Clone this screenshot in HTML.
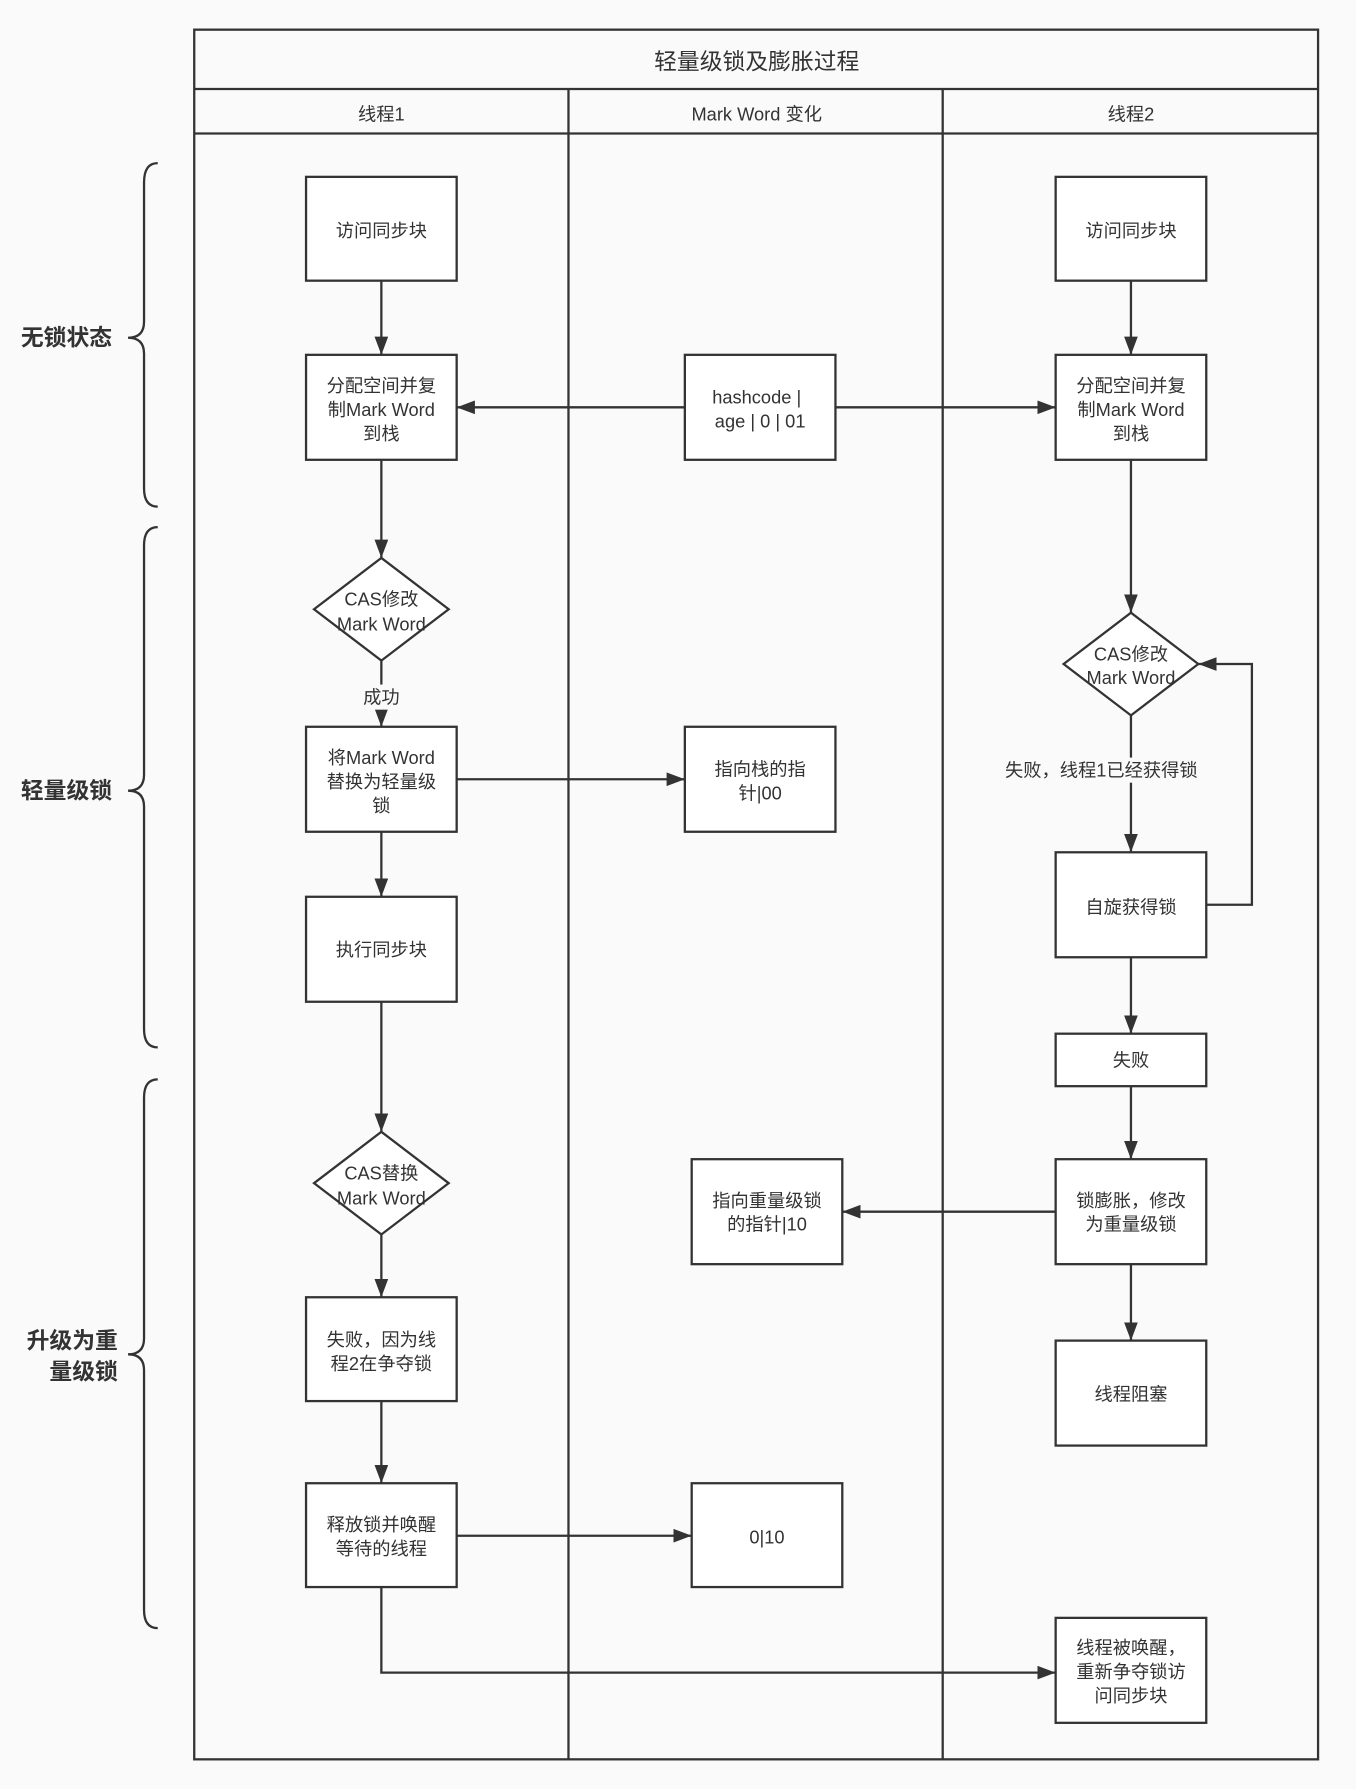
<!DOCTYPE html>
<html><head><meta charset="utf-8"><style>
html,body{margin:0;padding:0;background:#fafafa;}
svg{display:block;}
text{font-family:"Liberation Sans","Noto Sans CJK SC",sans-serif;fill:#333;}
</style></head><body>
<svg width="1356" height="1789" viewBox="0 0 1188 1568" xmlns="http://www.w3.org/2000/svg">
<defs>
<marker id="a" viewBox="0 0 16 12" refX="16" refY="6" markerWidth="16" markerHeight="12" orient="auto" markerUnits="userSpaceOnUse">
<path d="M0,0 L16,6 L0,12 z" fill="#333"/>
</marker>
</defs>
<rect width="1188" height="1568" fill="#fafafa"/>
<g stroke="#333" stroke-width="2" fill="none">
<rect x="170" y="26" width="985" height="1516" fill="#fafafa"/>
<line x1="170" y1="78" x2="1155" y2="78"/>
<line x1="170" y1="117" x2="1155" y2="117"/>
<line x1="498" y1="78" x2="498" y2="1542"/>
<line x1="826" y1="78" x2="826" y2="1542"/>
<path d="M138,143 Q126,143 126,160 L126,282 Q126,296 112,296 Q126,296 126,310 L126,428 Q126,444 138,444"/>
<path d="M138,462 Q126,462 126,478 L126,679 Q126,693 112,693 Q126,693 126,707 L126,902 Q126,918 138,918"/>
<path d="M138,946 Q126,946 126,962 L126,1173 Q126,1187 112,1187 Q126,1187 126,1201 L126,1411 Q126,1427 138,1427"/>
</g>
<g stroke="#333" stroke-width="2" fill="#fff">
<rect x="268" y="155" width="132" height="91"/>
<rect x="268" y="311" width="132" height="92"/>
<polygon points="334,489 393,534 334,579 275,534"/>
<rect x="268" y="637" width="132" height="92"/>
<rect x="268" y="786" width="132" height="92"/>
<polygon points="334,992 393,1037 334,1082 275,1037"/>
<rect x="268" y="1137" width="132" height="91"/>
<rect x="268" y="1300" width="132" height="91"/>
<rect x="600" y="311" width="132" height="92"/>
<rect x="600" y="637" width="132" height="92"/>
<rect x="606" y="1016" width="132" height="92"/>
<rect x="606" y="1300" width="132" height="91"/>
<rect x="925" y="155" width="132" height="91"/>
<rect x="925" y="311" width="132" height="92"/>
<polygon points="991,537 1050,582 991,627 932,582"/>
<rect x="925" y="747" width="132" height="92"/>
<rect x="925" y="906" width="132" height="46"/>
<rect x="925" y="1016" width="132" height="92"/>
<rect x="925" y="1175" width="132" height="92"/>
<rect x="925" y="1418" width="132" height="92"/>
</g>
<g stroke="#333" stroke-width="2" fill="none" marker-end="url(#a)">
<line x1="334" y1="246" x2="334" y2="311"/>
<line x1="334" y1="403" x2="334" y2="489"/>
<line x1="334" y1="579" x2="334" y2="637"/>
<line x1="334" y1="729" x2="334" y2="786"/>
<line x1="334" y1="878" x2="334" y2="992"/>
<line x1="334" y1="1082" x2="334" y2="1137"/>
<line x1="334" y1="1228" x2="334" y2="1300"/>
<line x1="600" y1="357" x2="400" y2="357"/>
<line x1="732" y1="357" x2="925" y2="357"/>
<line x1="400" y1="683" x2="600" y2="683"/>
<line x1="991" y1="246" x2="991" y2="311"/>
<line x1="991" y1="403" x2="991" y2="537"/>
<line x1="991" y1="627" x2="991" y2="747"/>
<line x1="991" y1="839" x2="991" y2="906"/>
<line x1="991" y1="952" x2="991" y2="1016"/>
<line x1="991" y1="1108" x2="991" y2="1175"/>
<polyline points="1057,793 1097,793 1097,582 1050,582"/>
<line x1="925" y1="1062" x2="738" y2="1062"/>
<line x1="400" y1="1346" x2="606" y2="1346"/>
<polyline points="334,1391 334,1466 925,1466"/>
</g>
<rect x="314" y="600" width="40" height="22" fill="#fafafa"/>
<rect x="874" y="664" width="182" height="22" fill="#fafafa"/>
<g font-size="16" text-anchor="middle" dominant-baseline="central">
<text x="663" y="54" font-size="20">轻量级锁及膨胀过程</text>
<text x="334" y="100">线程1</text>
<text x="663" y="100">Mark Word 变化</text>
<text x="991" y="100">线程2</text>
<text x="58" y="296" font-size="20" font-weight="bold">无锁状态</text>
<text x="58" y="693" font-size="20" font-weight="bold">轻量级锁</text>
<text x="103" y="1175" font-size="20" font-weight="bold" text-anchor="end">升级为重</text>
<text x="103" y="1202" font-size="20" font-weight="bold" text-anchor="end">量级锁</text>
<text x="334" y="202">访问同步块</text>
<text x="334" y="338">分配空间并复</text>
<text x="334" y="359">制Mark Word</text>
<text x="334" y="380">到栈</text>
<text x="334" y="525">CAS修改</text>
<text x="334" y="547">Mark Word</text>
<text x="334" y="611">成功</text>
<text x="334" y="664">将Mark Word</text>
<text x="334" y="685">替换为轻量级</text>
<text x="334" y="706">锁</text>
<text x="334" y="832">执行同步块</text>
<text x="334" y="1028">CAS替换</text>
<text x="334" y="1050">Mark Word</text>
<text x="334" y="1174">失败，因为线</text>
<text x="334" y="1195">程2在争夺锁</text>
<text x="334" y="1336">释放锁并唤醒</text>
<text x="334" y="1357">等待的线程</text>
<text x="663" y="348">hashcode |</text>
<text x="666" y="369">age | 0 | 01</text>
<text x="666" y="674">指向栈的指</text>
<text x="666" y="695">针|00</text>
<text x="672" y="1052">指向重量级锁</text>
<text x="672" y="1073">的指针|10</text>
<text x="672" y="1347">0|10</text>
<text x="991" y="202">访问同步块</text>
<text x="991" y="338">分配空间并复</text>
<text x="991" y="359">制Mark Word</text>
<text x="991" y="380">到栈</text>
<text x="991" y="573">CAS修改</text>
<text x="991" y="594">Mark Word</text>
<text x="965" y="675">失败，线程1已经获得锁</text>
<text x="991" y="795">自旋获得锁</text>
<text x="991" y="929">失败</text>
<text x="991" y="1052">锁膨胀，修改</text>
<text x="991" y="1073">为重量级锁</text>
<text x="991" y="1222">线程阻塞</text>
<text x="991" y="1444">线程被唤醒，</text>
<text x="991" y="1465">重新争夺锁访</text>
<text x="991" y="1486">问同步块</text>
</g>
</svg>
</body></html>
